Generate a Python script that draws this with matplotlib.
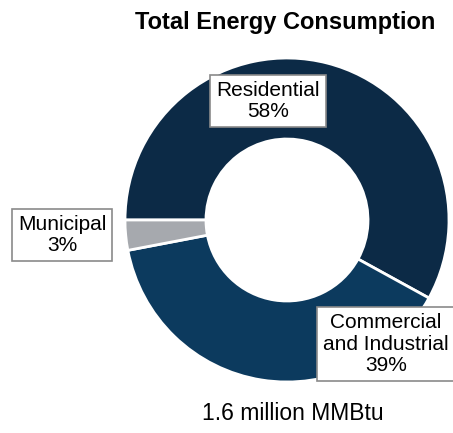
import matplotlib.pyplot as plt

plt.rcParams['font.family'] = ['Liberation Sans', 'DejaVu Sans']

sectors = ["Residential", "Commercial\nand Industrial", "Municipal"]
shares = [58, 39, 3]
colors = ["#0c2a46", "#0c3a5e", "#a6a9ae"]
title = "Total Energy Consumption"
total_note = "1.6 million MMBtu"

W, H = 453, 433
fig = plt.figure(figsize=(W / 100, H / 100), dpi=100)

# donut axes: centre about (287, 220) px, radius ~162 px
cx, cy, r = 287, 220, 162
ax = fig.add_axes([(cx - r) / W, (H - cy - r) / H, 2 * r / W, 2 * r / H])
ax.pie(shares, colors=colors, startangle=180, counterclock=False,
       wedgeprops=dict(width=0.5, edgecolor="white", linewidth=2))
ax.set_xlim(-1, 1)
ax.set_ylim(-1, 1)
ax.set_aspect("equal")
ax.axis("off")

fig.text(285 / W, 1 - 23 / H, title, ha="center", va="center",
         fontsize=17, fontweight="bold")
fig.text(293 / W, 1 - 413 / H, total_note, ha="center", va="center",
         fontsize=16.5)

# label boxes (pixel centres from the reference)
label_pos = [(268, 101), (386, 344), (62, 235)]
box = dict(boxstyle="square,pad=0.3", facecolor="white",
           edgecolor="#8a8a8a", linewidth=1.2)
for name, val, (px, py) in zip(sectors, shares, label_pos):
    fig.text(px / W, 1 - py / H, f"{name}\n{val}%", ha="center",
             va="center", fontsize=15, linespacing=1.15, bbox=box)

fig.savefig("out.png", dpi=100)
